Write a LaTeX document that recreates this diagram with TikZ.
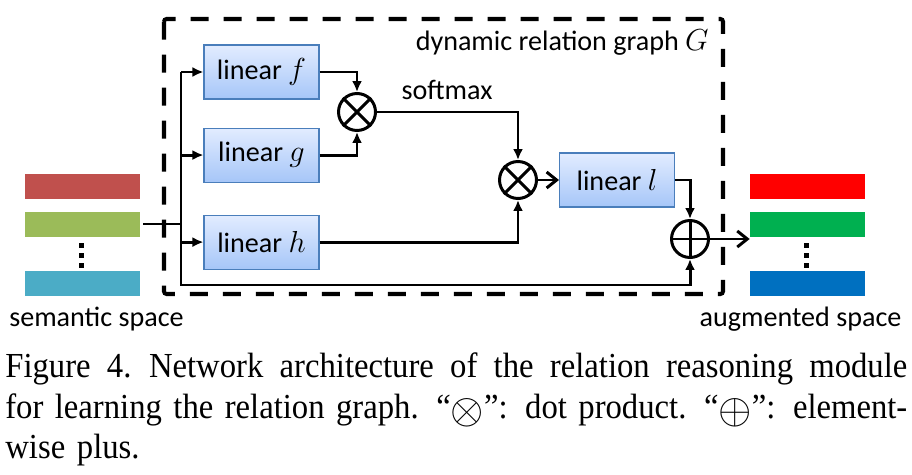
\documentclass[tikz,border=0pt]{standalone}
\usepackage{fontspec}
\setmainfont{Liberation Serif}
\newfontfamily\capfont[FakeStretch=0.93]{Liberation Serif}
\newfontfamily\carlito{Carlito}
\usepackage{xcolor}
\usetikzlibrary{positioning, arrows.meta, calc}

\definecolor{boxline}{HTML}{4A7EBB}
\definecolor{boxtop}{HTML}{E2ECFF}
\definecolor{boxbot}{HTML}{A6C6F8}
\definecolor{inred}{HTML}{C0504D}
\definecolor{ingreen}{HTML}{9BBB59}
\definecolor{inteal}{HTML}{4BACC6}
\definecolor{outred}{HTML}{FF0000}
\definecolor{outgreen}{HTML}{00B050}
\definecolor{outblue}{HTML}{0070C0}

\newcommand{\capsym}[1]{\raisebox{-0.1cm}{\resizebox{!}{0.5cm}{$#1$}}}
\newcommand{\capline}[1]{\noindent\hbox to 18.04cm{\spaceskip=0.25em plus 1fil\relax #1}}

\begin{document}
\begin{tikzpicture}[
node distance=0.56cm and 0.42cm,
box/.style={rectangle, draw=boxline, line width=0.6pt, top color=boxtop, bottom color=boxbot, minimum width=2.3cm, minimum height=1.08cm, inner sep=0pt, font=\carlito\fontsize{16}{19}\selectfont},
op/.style={circle, draw, line width=1.7pt, minimum size=0.74cm, inner sep=0pt},
bar/.style={rectangle, minimum width=2.3cm, minimum height=0.5cm, inner sep=0pt},
wire/.style={line width=1.7pt},
arrow/.style={-{Latex[length=2.2mm,width=2mm]}, line width=1.7pt},
barb/.style={-{Straight Barb[length=2mm,width=3.2mm]}, line width=1.7pt},
lbl/.style={font=\carlito\fontsize{16}{19}\selectfont, inner sep=0pt},
vdots/.style={line width=0.1cm, dash pattern=on 0.1cm off 0.1cm}
]

\useasboundingbox (0,0) rectangle (18.24,-9.5);

% dynamic relation graph
\draw[line width=2.3pt, dash pattern=on 0.36cm off 0.3cm, rounded corners=1.5pt] (3.28,-0.38) rectangle (14.46,-5.88);
\node[lbl, anchor=east] (graph_lbl) at (14.18,-0.86) {dynamic relation graph $G$};

\node[box] (lin_f) at (5.23,-1.44) {linear $f$};
\node[box, below=of lin_f] (lin_g) {linear $g$};
\node[box, below=0.64cm of lin_g] (lin_h) {linear $h$};
\node[op] (dot_fg) at (7.14,-2.24) {};
\node[op] (dot_h) at (10.36,-3.6) {};
\node[box, right=of dot_h] (lin_l) {linear $l$};
\node[op] (plus) at (13.8,-4.78) {};
\node[lbl] (softmax) at (8.94,-1.8) {softmax};

\draw[line width=1.7pt] (dot_fg.north west) -- (dot_fg.south east) (dot_fg.north east) -- (dot_fg.south west);
\draw[line width=1.7pt] (dot_h.north west) -- (dot_h.south east) (dot_h.north east) -- (dot_h.south west);
\draw[line width=1.7pt] (plus.north) -- (plus.south) (plus.west) -- (plus.east);

% semantic space
\node[bar, fill=inred] (sem_1) at (1.65,-3.73) {};
\node[bar, fill=ingreen, below=0.24cm of sem_1] (sem_2) {};
\node[bar, fill=inteal, below=0.68cm of sem_2] (sem_3) {};
\draw[vdots] ($(sem_2.south)+(-0.03,-0.12)$) -- ++(0,-0.5);
\node[lbl, anchor=base] (sem_lbl) at (1.93,-6.52) {semantic space};

% augmented space
\node[bar, fill=outred] (aug_1) at (16.15,-3.73) {};
\node[bar, fill=outgreen, below=0.24cm of aug_1] (aug_2) {};
\node[bar, fill=outblue, below=0.68cm of aug_2] (aug_3) {};
\draw[vdots] ($(aug_2.south)+(-0.03,-0.12)$) -- ++(0,-0.5);
\node[lbl, anchor=base] (aug_lbl) at (16.01,-6.52) {augmented space};

\coordinate (trunk) at (3.62,-5.7);

\draw[wire, line width=1.3pt] ([xshift=0.06cm]sem_2.east) -- (sem_2.east -| trunk);
\draw[arrow] (lin_f.west -| trunk) -- (trunk) -| (plus.south);
\draw[arrow] (lin_f.west -| trunk) -- (lin_f.west);
\draw[arrow] (lin_g.west -| trunk) -- (lin_g.west);
\draw[arrow] (lin_h.west -| trunk) -- (lin_h.west);
\draw[arrow] (lin_f.east) -| (dot_fg.north);
\draw[arrow] (lin_g.east) -| (dot_fg.south);
\draw[arrow] (dot_fg.east) -| (dot_h.north);
\draw[arrow] (lin_h.east) -| (dot_h.south);
\draw[barb] (dot_h.east) -- (lin_l.west);
\draw[arrow] (lin_l.east) -| (plus.north);
\draw[barb] (plus.east) -- (plus.east -| aug_2.west);

% caption
\node[anchor=north west, text width=18.04cm, align=left, inner sep=0pt, font=\capfont\fontsize{20}{23.3}\selectfont] (caption) at (0.1,-7.04) {%
\capline{Figure 4. Network architecture of the relation reasoning module}\\
\capline{for learning the relation graph. “\capsym{\otimes}”: dot product. “\capsym{\oplus}”: element-}\\
wise plus.};

\end{tikzpicture}
\end{document}
